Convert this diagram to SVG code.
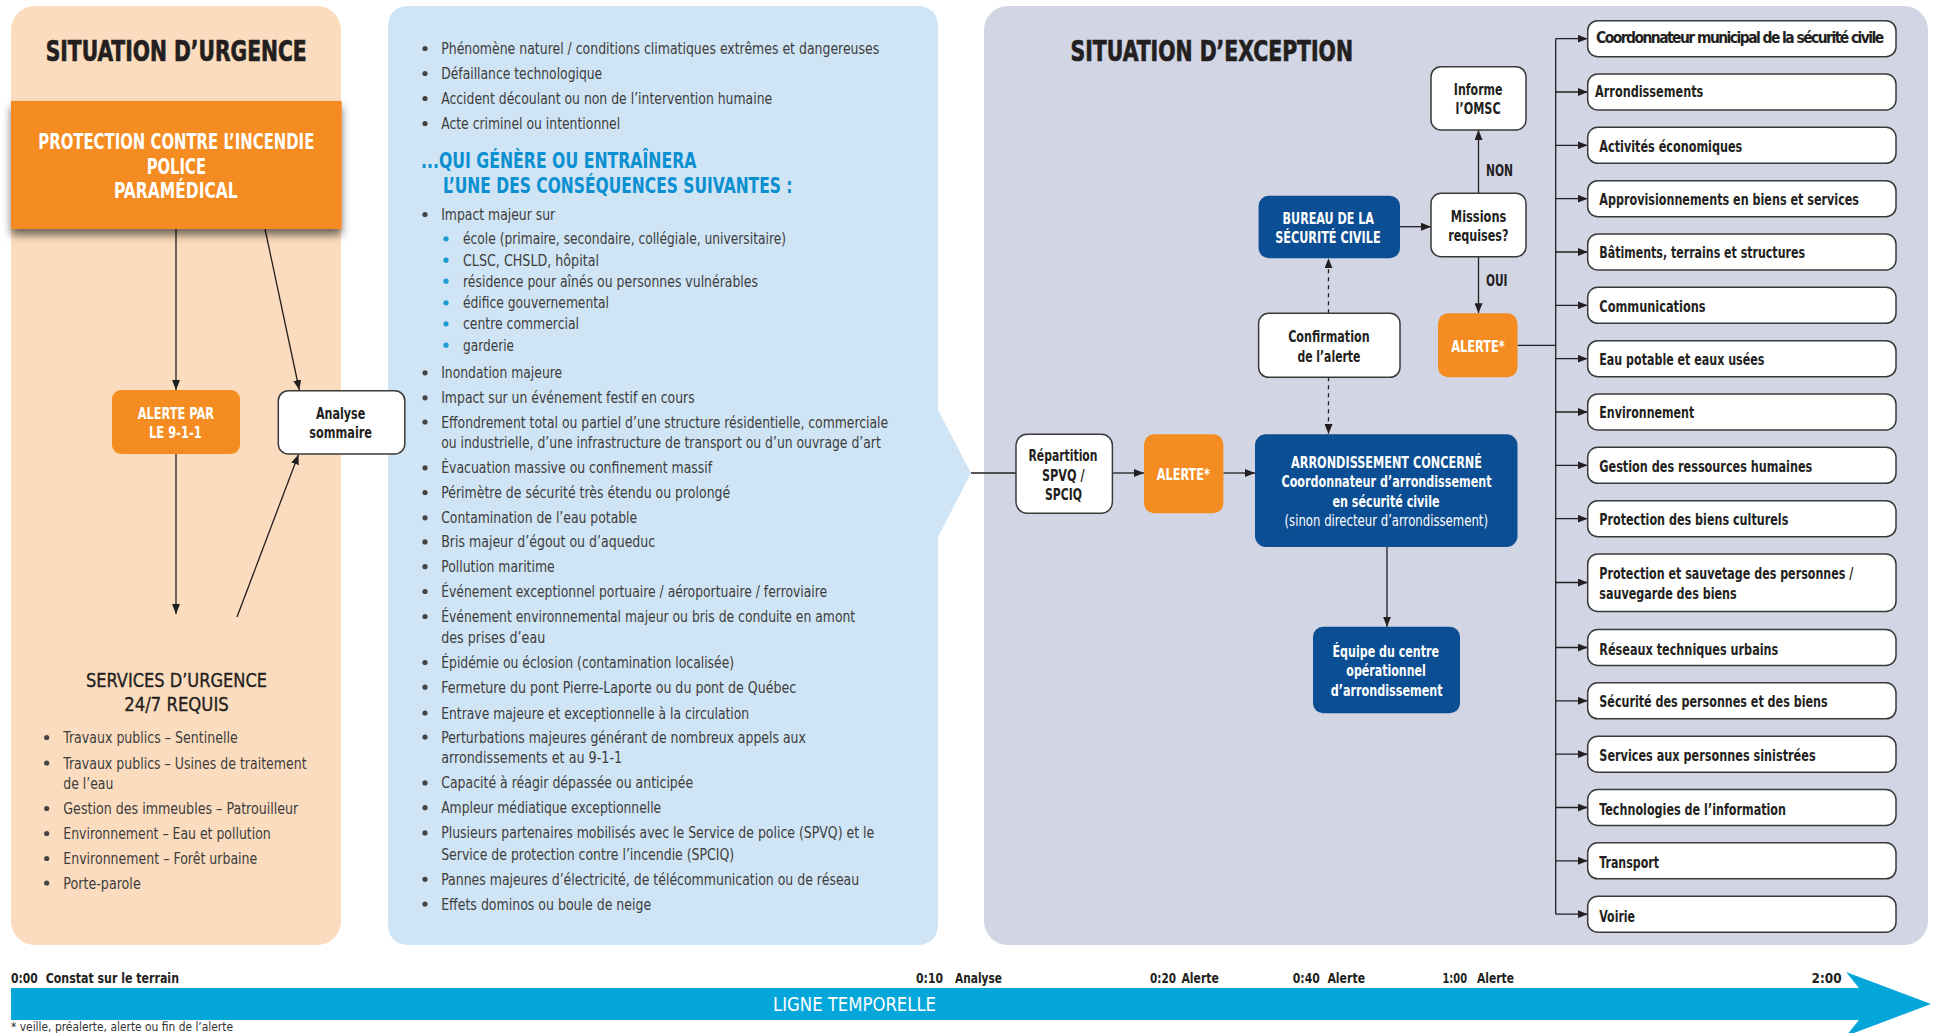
<svg xmlns="http://www.w3.org/2000/svg" width="1936" height="1033" viewBox="0 0 1936 1033">
<defs>
<style>
text { font-family: 'Liberation Sans Narrow','DejaVu Sans Condensed','Liberation Sans',sans-serif; }
.hd { font-size: 29px; font-weight: bold; fill: #231F20; stroke: #231F20; stroke-width: 0.7px; }
.li { font-size: 16.5px; fill: #3d3d3d; }
.lbl { font-size: 16px; font-weight: bold; fill: #231F20; }
.wl { font-size: 16px; font-weight: bold; fill: #ffffff; }
.big { font-size: 21.5px; font-weight: bold; fill: #ffffff; }
.sub { font-size: 21px; font-weight: bold; fill: #0A8FD1; }
.tl { font-size: 14.5px; font-weight: bold; fill: #231F20; }
.ln { stroke: #231F20; stroke-width: 1.3; fill: none; }
.ar { marker-end: url(#ah); }
.da { stroke-dasharray: 4 4; }
.wbox { fill: #ffffff; stroke: #3a3a3a; stroke-width: 1.5; }
.obox { fill: #F58C21; }
.bbox { fill: #0C4E93; }
.dot { fill: #444444; }
.cdot { fill: #1B9AD6; }
</style>
<marker id="ah" viewBox="0 0 10 8" refX="10" refY="4" markerWidth="10" markerHeight="8" markerUnits="userSpaceOnUse" orient="auto">
<path d="M0,0 L10,4 L0,8 Z" fill="#231F20"/>
</marker>
<filter id="sh" x="-10%" y="-20%" width="120%" height="160%">
<feDropShadow dx="0" dy="6" stdDeviation="4" flood-color="#000" flood-opacity="0.55"/>
</filter>
</defs>

<!-- panels -->
<g id="panel-urgence">
<rect x="11" y="6" width="330" height="939" rx="24" fill="#FCDCBE"/>
<text class="hd" x="45.7" y="61" textLength="261" lengthAdjust="spacingAndGlyphs">SITUATION D’URGENCE</text>
</g>
<g id="panel-evenements">
<path d="M410,6 H916 Q938,6 938,28 V410 L971,473 L938,537 V923 Q938,945 916,945 H410 Q388,945 388,923 V28 Q388,6 410,6 Z" fill="#CFE4F4"/>
</g>
<g id="panel-exception">
<rect x="984" y="6" width="944" height="939" rx="24" fill="#D1D5E4"/>
<text class="hd" x="1070.6" y="61" textLength="282.4" lengthAdjust="spacingAndGlyphs">SITUATION D’EXCEPTION</text>
</g>

<!-- connectors -->
<g id="connectors">
<line class="ln ar" x1="176" y1="229" x2="176" y2="390"/>
<line class="ln ar" x1="265" y1="229" x2="299.3" y2="390"/>
<line class="ln ar" x1="176" y1="454" x2="176" y2="614"/>
<line class="ln ar" x1="237" y1="617" x2="298.5" y2="454.5"/>
<line class="ln" x1="971" y1="473" x2="1016" y2="473"/>
<line class="ln ar" x1="1112.4" y1="473" x2="1144" y2="473"/>
<line class="ln ar" x1="1223.4" y1="473" x2="1255" y2="473"/>
<line class="ln ar da" x1="1328.5" y1="377.3" x2="1328.5" y2="434"/>
<line class="ln ar da" x1="1328.5" y1="313.3" x2="1328.5" y2="258.3"/>
<line class="ln ar" x1="1400" y1="226.7" x2="1431" y2="226.7"/>
<line class="ln ar" x1="1478.5" y1="193.3" x2="1478.5" y2="130"/>
<line class="ln ar" x1="1478.5" y1="256.7" x2="1478.5" y2="313.3"/>
<line class="ln ar" x1="1387" y1="547" x2="1387" y2="626.7"/>
<line class="ln" x1="1517.5" y1="345.3" x2="1555.7" y2="345.3"/>
<line class="ln" x1="1555.7" y1="38.7" x2="1555.7" y2="914.2"/>
<line class="ln ar" x1="1555.7" y1="38.7" x2="1587.7" y2="38.7"/>
<line class="ln ar" x1="1555.7" y1="92" x2="1587.7" y2="92"/>
<line class="ln ar" x1="1555.7" y1="145.3" x2="1587.7" y2="145.3"/>
<line class="ln ar" x1="1555.7" y1="198.7" x2="1587.7" y2="198.7"/>
<line class="ln ar" x1="1555.7" y1="252" x2="1587.7" y2="252"/>
<line class="ln ar" x1="1555.7" y1="305.3" x2="1587.7" y2="305.3"/>
<line class="ln ar" x1="1555.7" y1="358.7" x2="1587.7" y2="358.7"/>
<line class="ln ar" x1="1555.7" y1="412" x2="1587.7" y2="412"/>
<line class="ln ar" x1="1555.7" y1="465.3" x2="1587.7" y2="465.3"/>
<line class="ln ar" x1="1555.7" y1="518.7" x2="1587.7" y2="518.7"/>
<line class="ln ar" x1="1555.7" y1="582.5" x2="1587.7" y2="582.5"/>
<line class="ln ar" x1="1555.7" y1="647.5" x2="1587.7" y2="647.5"/>
<line class="ln ar" x1="1555.7" y1="700.8" x2="1587.7" y2="700.8"/>
<line class="ln ar" x1="1555.7" y1="754.2" x2="1587.7" y2="754.2"/>
<line class="ln ar" x1="1555.7" y1="807.5" x2="1587.7" y2="807.5"/>
<line class="ln ar" x1="1555.7" y1="860.8" x2="1587.7" y2="860.8"/>
<line class="ln ar" x1="1555.7" y1="914.2" x2="1587.7" y2="914.2"/>
</g>

<!-- left nodes -->
<g id="n-intervenants">
<rect x="11" y="101" width="330.7" height="128" class="obox" filter="url(#sh)"/>
<text class="big" x="38.3" y="149" textLength="276" lengthAdjust="spacingAndGlyphs">PROTECTION CONTRE L’INCENDIE</text>
<text class="big" x="146.7" y="173.7" textLength="59.3" lengthAdjust="spacingAndGlyphs">POLICE</text>
<text class="big" x="114" y="197.7" textLength="123.7" lengthAdjust="spacingAndGlyphs">PARAMÉDICAL</text>
</g>
<g id="n-alerte911">
<rect x="112" y="390" width="128" height="64" rx="9" class="obox"/>
<text class="wl" x="137.7" y="419" textLength="76.3" lengthAdjust="spacingAndGlyphs">ALERTE PAR</text>
<text class="wl" x="149" y="437.7" textLength="52.7" lengthAdjust="spacingAndGlyphs">LE 9-1-1</text>
</g>
<g id="n-analyse">
<rect x="278.3" y="390.7" width="126.5" height="63.3" rx="10" class="wbox"/>
<text class="lbl" x="316" y="419" textLength="49.3" lengthAdjust="spacingAndGlyphs">Analyse</text>
<text class="lbl" x="309.3" y="438" textLength="62.7" lengthAdjust="spacingAndGlyphs">sommaire</text>
</g>
<g id="n-services">
<text x="86" y="687" font-size="20" fill="#231F20" stroke="#231F20" stroke-width="0.35" textLength="181" lengthAdjust="spacingAndGlyphs">SERVICES D’URGENCE</text>
<text x="124.3" y="711" font-size="20" fill="#231F20" stroke="#231F20" stroke-width="0.35" textLength="104.4" lengthAdjust="spacingAndGlyphs">24/7 REQUIS</text>
<circle class="dot" cx="46.7" cy="737.5" r="2.6"/>
<text class="li" x="63.3" y="743" textLength="174.4" lengthAdjust="spacingAndGlyphs">Travaux publics – Sentinelle</text>
<circle class="dot" cx="46.7" cy="763" r="2.6"/>
<text class="li" x="63.3" y="768.5" textLength="243.4" lengthAdjust="spacingAndGlyphs">Travaux publics – Usines de traitement</text>
<text class="li" x="63.3" y="789" textLength="50" lengthAdjust="spacingAndGlyphs">de l’eau</text>
<circle class="dot" cx="46.7" cy="808.5" r="2.6"/>
<text class="li" x="63.3" y="814" textLength="235" lengthAdjust="spacingAndGlyphs">Gestion des immeubles – Patrouilleur</text>
<circle class="dot" cx="46.7" cy="833.5" r="2.6"/>
<text class="li" x="63.3" y="839" textLength="207.4" lengthAdjust="spacingAndGlyphs">Environnement – Eau et pollution</text>
<circle class="dot" cx="46.7" cy="858.5" r="2.6"/>
<text class="li" x="63.3" y="864" textLength="194" lengthAdjust="spacingAndGlyphs">Environnement – Forêt urbaine</text>
<circle class="dot" cx="46.7" cy="883" r="2.6"/>
<text class="li" x="63.3" y="888.5" textLength="77.4" lengthAdjust="spacingAndGlyphs">Porte-parole</text>
</g>

<!-- middle list -->
<g id="n-criteres">
<circle class="dot" cx="425" cy="48.5" r="2.6"/>
<text class="li" x="441.2" y="54" textLength="438" lengthAdjust="spacingAndGlyphs">Phénomène naturel / conditions climatiques extrêmes et dangereuses</text>
<circle class="dot" cx="425" cy="73.5" r="2.6"/>
<text class="li" x="441.2" y="79" textLength="161" lengthAdjust="spacingAndGlyphs">Défaillance technologique</text>
<circle class="dot" cx="425" cy="98.5" r="2.6"/>
<text class="li" x="441.2" y="104" textLength="331" lengthAdjust="spacingAndGlyphs">Accident découlant ou non de l’intervention humaine</text>
<circle class="dot" cx="425" cy="123.5" r="2.6"/>
<text class="li" x="441.2" y="129" textLength="179" lengthAdjust="spacingAndGlyphs">Acte criminel ou intentionnel</text>
<text class="sub" x="421" y="168.3" textLength="275.5" lengthAdjust="spacingAndGlyphs">...QUI GÉNÈRE OU ENTRAÎNERA</text>
<text class="sub" x="443" y="192.7" textLength="349.5" lengthAdjust="spacingAndGlyphs">L’UNE DES CONSÉQUENCES SUIVANTES :</text>
<circle class="dot" cx="425" cy="214.5" r="2.6"/>
<text class="li" x="441.2" y="220" textLength="114" lengthAdjust="spacingAndGlyphs">Impact majeur sur</text>
<circle class="cdot" cx="446" cy="238.8" r="2.6"/>
<text class="li" x="463" y="244.3" textLength="323" lengthAdjust="spacingAndGlyphs">école (primaire, secondaire, collégiale, universitaire)</text>
<circle class="cdot" cx="446" cy="260.2" r="2.6"/>
<text class="li" x="463" y="265.7" textLength="136" lengthAdjust="spacingAndGlyphs">CLSC, CHSLD, hôpital</text>
<circle class="cdot" cx="446" cy="281.2" r="2.6"/>
<text class="li" x="463" y="286.7" textLength="295" lengthAdjust="spacingAndGlyphs">résidence pour aînés ou personnes vulnérables</text>
<circle class="cdot" cx="446" cy="302.8" r="2.6"/>
<text class="li" x="463" y="308.3" textLength="146" lengthAdjust="spacingAndGlyphs">édifice gouvernemental</text>
<circle class="cdot" cx="446" cy="323.8" r="2.6"/>
<text class="li" x="463" y="329.3" textLength="116" lengthAdjust="spacingAndGlyphs">centre commercial</text>
<circle class="cdot" cx="446" cy="345.2" r="2.6"/>
<text class="li" x="463" y="350.7" textLength="51" lengthAdjust="spacingAndGlyphs">garderie</text>
<circle class="dot" cx="425" cy="372.8" r="2.6"/>
<text class="li" x="441.2" y="378.3" textLength="121" lengthAdjust="spacingAndGlyphs">Inondation majeure</text>
<circle class="dot" cx="425" cy="397.8" r="2.6"/>
<text class="li" x="441.2" y="403.3" textLength="253.5" lengthAdjust="spacingAndGlyphs">Impact sur un événement festif en cours</text>
<circle class="dot" cx="425" cy="422" r="2.6"/>
<text class="li" x="441.2" y="427.5" textLength="447" lengthAdjust="spacingAndGlyphs">Effondrement total ou partiel d’une structure résidentielle, commerciale</text>
<text class="li" x="441.2" y="448.2" textLength="439.6" lengthAdjust="spacingAndGlyphs">ou industrielle, d’une infrastructure de transport ou d’un ouvrage d’art</text>
<circle class="dot" cx="425" cy="467.8" r="2.6"/>
<text class="li" x="441.2" y="473.3" textLength="271" lengthAdjust="spacingAndGlyphs">Évacuation massive ou confinement massif</text>
<circle class="dot" cx="425" cy="492.5" r="2.6"/>
<text class="li" x="441.2" y="498" textLength="289" lengthAdjust="spacingAndGlyphs">Périmètre de sécurité très étendu ou prolongé</text>
<circle class="dot" cx="425" cy="517.8" r="2.6"/>
<text class="li" x="441.2" y="523.3" textLength="196" lengthAdjust="spacingAndGlyphs">Contamination de l’eau potable</text>
<circle class="dot" cx="425" cy="541.9" r="2.6"/>
<text class="li" x="441.2" y="547.4" textLength="214" lengthAdjust="spacingAndGlyphs">Bris majeur d’égout ou d’aqueduc</text>
<circle class="dot" cx="425" cy="566.7" r="2.6"/>
<text class="li" x="441.2" y="572.2" textLength="113.5" lengthAdjust="spacingAndGlyphs">Pollution maritime</text>
<circle class="dot" cx="425" cy="591.5" r="2.6"/>
<text class="li" x="441.2" y="597" textLength="386" lengthAdjust="spacingAndGlyphs">Événement exceptionnel portuaire / aéroportuaire / ferroviaire</text>
<circle class="dot" cx="425" cy="616.5" r="2.6"/>
<text class="li" x="441.2" y="622" textLength="414" lengthAdjust="spacingAndGlyphs">Événement environnemental majeur ou bris de conduite en amont</text>
<text class="li" x="441.2" y="642.8" textLength="104" lengthAdjust="spacingAndGlyphs">des prises d’eau</text>
<circle class="dot" cx="425" cy="662.5" r="2.6"/>
<text class="li" x="441.2" y="668" textLength="293" lengthAdjust="spacingAndGlyphs">Épidémie ou éclosion (contamination localisée)</text>
<circle class="dot" cx="425" cy="687.2" r="2.6"/>
<text class="li" x="441.2" y="692.7" textLength="355" lengthAdjust="spacingAndGlyphs">Fermeture du pont Pierre-Laporte ou du pont de Québec</text>
<circle class="dot" cx="425" cy="713" r="2.6"/>
<text class="li" x="441.2" y="718.5" textLength="308" lengthAdjust="spacingAndGlyphs">Entrave majeure et exceptionnelle à la circulation</text>
<circle class="dot" cx="425" cy="737.1" r="2.6"/>
<text class="li" x="441.2" y="742.6" textLength="364.6" lengthAdjust="spacingAndGlyphs">Perturbations majeures générant de nombreux appels aux</text>
<text class="li" x="441.2" y="763.3" textLength="181" lengthAdjust="spacingAndGlyphs">arrondissements et au 9-1-1</text>
<circle class="dot" cx="425" cy="782.9" r="2.6"/>
<text class="li" x="441.2" y="788.4" textLength="252" lengthAdjust="spacingAndGlyphs">Capacité à réagir dépassée ou anticipée</text>
<circle class="dot" cx="425" cy="807.7" r="2.6"/>
<text class="li" x="441.2" y="813.2" textLength="220" lengthAdjust="spacingAndGlyphs">Ampleur médiatique exceptionnelle</text>
<circle class="dot" cx="425" cy="832.9" r="2.6"/>
<text class="li" x="441.2" y="838.4" textLength="433" lengthAdjust="spacingAndGlyphs">Plusieurs partenaires mobilisés avec le Service de police (SPVQ) et le</text>
<text class="li" x="441.2" y="859.7" textLength="293" lengthAdjust="spacingAndGlyphs">Service de protection contre l’incendie (SPCIQ)</text>
<circle class="dot" cx="425" cy="879.3" r="2.6"/>
<text class="li" x="441.2" y="884.8" textLength="418" lengthAdjust="spacingAndGlyphs">Pannes majeures d’électricité, de télécommunication ou de réseau</text>
<circle class="dot" cx="425" cy="904.1" r="2.6"/>
<text class="li" x="441.2" y="909.6" textLength="210" lengthAdjust="spacingAndGlyphs">Effets dominos ou boule de neige</text>
</g>

<!-- exception nodes -->
<g id="n-repartition">
<rect x="1016" y="434.3" width="96.4" height="79" rx="11" class="wbox"/>
<text class="lbl" x="1028.5" y="461" textLength="69" lengthAdjust="spacingAndGlyphs">Répartition</text>
<text class="lbl" x="1042" y="480.5" textLength="42.5" lengthAdjust="spacingAndGlyphs">SPVQ /</text>
<text class="lbl" x="1045" y="500" textLength="37" lengthAdjust="spacingAndGlyphs">SPCIQ</text>
</g>
<g id="n-alerte1">
<rect x="1144" y="434.3" width="79.4" height="79" rx="10" class="obox"/>
<text class="wl" x="1156.8" y="480" textLength="53" lengthAdjust="spacingAndGlyphs">ALERTE*</text>
</g>
<g id="n-arrondissement">
<rect x="1255" y="434.3" width="262.5" height="112.7" rx="11" class="bbox"/>
<text class="wl" x="1291" y="467.7" font-size="15.5" textLength="191" lengthAdjust="spacingAndGlyphs">ARRONDISSEMENT CONCERNÉ</text>
<text class="wl" x="1281.5" y="487.3" font-size="15.5" textLength="210" lengthAdjust="spacingAndGlyphs">Coordonnateur d’arrondissement</text>
<text class="wl" x="1332.5" y="506.7" font-size="15.5" textLength="107" lengthAdjust="spacingAndGlyphs">en sécurité civile</text>
<text x="1284.5" y="526" font-size="15.5" fill="#ffffff" textLength="203.5" lengthAdjust="spacingAndGlyphs">(sinon directeur d’arrondissement)</text>
</g>
<g id="n-equipe">
<rect x="1313" y="626.7" width="147" height="86.6" rx="10" class="bbox"/>
<text class="wl" x="1332.5" y="657" textLength="106.5" lengthAdjust="spacingAndGlyphs">Équipe du centre</text>
<text class="wl" x="1346.3" y="676" textLength="79.5" lengthAdjust="spacingAndGlyphs">opérationnel</text>
<text class="wl" x="1330.7" y="696" textLength="112" lengthAdjust="spacingAndGlyphs">d’arrondissement</text>
</g>
<g id="n-bureau">
<rect x="1258.6" y="195.7" width="141.4" height="62.6" rx="10" class="bbox"/>
<text class="wl" x="1282.6" y="224" textLength="91.4" lengthAdjust="spacingAndGlyphs">BUREAU DE LA</text>
<text class="wl" x="1275.2" y="242.7" textLength="105.4" lengthAdjust="spacingAndGlyphs">SÉCURITÉ CIVILE</text>
</g>
<g id="n-confirmation">
<rect x="1258.6" y="313.3" width="141.4" height="64" rx="10" class="wbox"/>
<text class="lbl" x="1288.2" y="341.7" textLength="81.4" lengthAdjust="spacingAndGlyphs">Confirmation</text>
<text class="lbl" x="1297.4" y="361.7" textLength="63" lengthAdjust="spacingAndGlyphs">de l’alerte</text>
</g>
<g id="n-missions">
<rect x="1431" y="193.3" width="95" height="63.4" rx="10" class="wbox"/>
<text class="lbl" x="1450.8" y="221.7" textLength="55.5" lengthAdjust="spacingAndGlyphs">Missions</text>
<text class="lbl" x="1448.2" y="240.7" textLength="60.3" lengthAdjust="spacingAndGlyphs">requises?</text>
</g>
<g id="n-informe">
<rect x="1431" y="66.7" width="95" height="63.3" rx="10" class="wbox"/>
<text class="lbl" x="1453.8" y="95" textLength="48.8" lengthAdjust="spacingAndGlyphs">Informe</text>
<text class="lbl" x="1455.6" y="114.3" textLength="45" lengthAdjust="spacingAndGlyphs">l’OMSC</text>
</g>
<g id="labels-decision">
<text class="lbl" x="1486" y="176" font-size="15" textLength="27" lengthAdjust="spacingAndGlyphs">NON</text>
<text class="lbl" x="1486" y="286" font-size="15" textLength="21.5" lengthAdjust="spacingAndGlyphs">OUI</text>
</g>
<g id="n-alerte2">
<rect x="1438" y="313.3" width="79.5" height="64" rx="10" class="obox"/>
<text class="wl" x="1451.2" y="351.7" textLength="53.6" lengthAdjust="spacingAndGlyphs">ALERTE*</text>
</g>

<!-- mission boxes -->
<g id="m-01"><rect x="1587.7" y="20.7" width="308.3" height="36" rx="10" class="wbox"/><text class="lbl" x="1596" y="43.3" letter-spacing="-1.6" textLength="286.7" lengthAdjust="spacingAndGlyphs">Coordonnateur municipal de la sécurité civile</text></g>
<g id="m-02"><rect x="1587.7" y="74" width="308.3" height="36" rx="10" class="wbox"/><text class="lbl" x="1595" y="96.7" textLength="108.3" lengthAdjust="spacingAndGlyphs">Arrondissements</text></g>
<g id="m-03"><rect x="1587.7" y="127.3" width="308.3" height="36" rx="10" class="wbox"/><text class="lbl" x="1599.3" y="151.7" textLength="143" lengthAdjust="spacingAndGlyphs">Activités économiques</text></g>
<g id="m-04"><rect x="1587.7" y="180.7" width="308.3" height="36" rx="10" class="wbox"/><text class="lbl" x="1599.3" y="205" textLength="259.7" lengthAdjust="spacingAndGlyphs">Approvisionnements en biens et services</text></g>
<g id="m-05"><rect x="1587.7" y="234" width="308.3" height="36" rx="10" class="wbox"/><text class="lbl" x="1599.3" y="258.3" textLength="205.7" lengthAdjust="spacingAndGlyphs">Bâtiments, terrains et structures</text></g>
<g id="m-06"><rect x="1587.7" y="287.3" width="308.3" height="36" rx="10" class="wbox"/><text class="lbl" x="1599.3" y="311.7" textLength="106.3" lengthAdjust="spacingAndGlyphs">Communications</text></g>
<g id="m-07"><rect x="1587.7" y="340.7" width="308.3" height="36" rx="10" class="wbox"/><text class="lbl" x="1599.3" y="365" textLength="165" lengthAdjust="spacingAndGlyphs">Eau potable et eaux usées</text></g>
<g id="m-08"><rect x="1587.7" y="394" width="308.3" height="36" rx="10" class="wbox"/><text class="lbl" x="1599.3" y="418.3" textLength="95" lengthAdjust="spacingAndGlyphs">Environnement</text></g>
<g id="m-09"><rect x="1587.7" y="447.3" width="308.3" height="36" rx="10" class="wbox"/><text class="lbl" x="1599.3" y="471.7" textLength="213" lengthAdjust="spacingAndGlyphs">Gestion des ressources humaines</text></g>
<g id="m-10"><rect x="1587.7" y="500.7" width="308.3" height="36" rx="10" class="wbox"/><text class="lbl" x="1599.3" y="525.3" textLength="189" lengthAdjust="spacingAndGlyphs">Protection des biens culturels</text></g>
<g id="m-11"><rect x="1587.7" y="554" width="308.3" height="57.5" rx="10" class="wbox"/><text class="lbl" x="1599.3" y="578.9" textLength="254" lengthAdjust="spacingAndGlyphs">Protection et sauvetage des personnes /</text><text class="lbl" x="1599.3" y="598.6" textLength="137.3" lengthAdjust="spacingAndGlyphs">sauvegarde des biens</text></g>
<g id="m-12"><rect x="1587.7" y="629.5" width="308.3" height="36" rx="10" class="wbox"/><text class="lbl" x="1599.3" y="654.7" textLength="179" lengthAdjust="spacingAndGlyphs">Réseaux techniques urbains</text></g>
<g id="m-13"><rect x="1587.7" y="682.8" width="308.3" height="36" rx="10" class="wbox"/><text class="lbl" x="1599.3" y="707.3" textLength="228.3" lengthAdjust="spacingAndGlyphs">Sécurité des personnes et des biens</text></g>
<g id="m-14"><rect x="1587.7" y="736.2" width="308.3" height="36" rx="10" class="wbox"/><text class="lbl" x="1599.3" y="761" textLength="216.3" lengthAdjust="spacingAndGlyphs">Services aux personnes sinistrées</text></g>
<g id="m-15"><rect x="1587.7" y="789.5" width="308.3" height="36" rx="10" class="wbox"/><text class="lbl" x="1599.3" y="815.4" textLength="186.7" lengthAdjust="spacingAndGlyphs">Technologies de l’information</text></g>
<g id="m-16"><rect x="1587.7" y="842.8" width="308.3" height="36" rx="10" class="wbox"/><text class="lbl" x="1599.3" y="868" textLength="59.7" lengthAdjust="spacingAndGlyphs">Transport</text></g>
<g id="m-17"><rect x="1587.7" y="896.2" width="308.3" height="36" rx="10" class="wbox"/><text class="lbl" x="1599.3" y="921.5" textLength="35.7" lengthAdjust="spacingAndGlyphs">Voirie</text></g>

<!-- timeline -->
<g id="timeline">
<polygon points="11,988 1859,988 1846,972 1931,1004 1846,1036 1859,1020 11,1020" fill="#05A6DA"/>
<text x="773" y="1011" font-size="20" fill="#ffffff" textLength="163" lengthAdjust="spacingAndGlyphs">LIGNE TEMPORELLE</text>
<text class="tl" x="11" y="982.5" textLength="26.7" lengthAdjust="spacingAndGlyphs">0:00</text>
<text class="tl" x="45.7" y="982.5" textLength="133.3" lengthAdjust="spacingAndGlyphs">Constat sur le terrain</text>
<text class="tl" x="916" y="982.5" textLength="27" lengthAdjust="spacingAndGlyphs">0:10</text>
<text class="tl" x="955" y="982.5" textLength="47" lengthAdjust="spacingAndGlyphs">Analyse</text>
<text class="tl" x="1150" y="982.5" textLength="26" lengthAdjust="spacingAndGlyphs">0:20</text>
<text class="tl" x="1181.4" y="982.5" textLength="37.6" lengthAdjust="spacingAndGlyphs">Alerte</text>
<text class="tl" x="1292.8" y="982.5" textLength="27" lengthAdjust="spacingAndGlyphs">0:40</text>
<text class="tl" x="1327.4" y="982.5" textLength="37.7" lengthAdjust="spacingAndGlyphs">Alerte</text>
<text class="tl" x="1442.5" y="982.5" textLength="24.5" lengthAdjust="spacingAndGlyphs">1:00</text>
<text class="tl" x="1477" y="982.5" textLength="37" lengthAdjust="spacingAndGlyphs">Alerte</text>
<text class="tl" x="1811.6" y="982.5" textLength="30" lengthAdjust="spacingAndGlyphs">2:00</text>
<text x="11" y="1031" font-size="11.5" fill="#333333" textLength="222" lengthAdjust="spacingAndGlyphs">* veille, préalerte, alerte ou fin de l’alerte</text>
</g>
</svg>
